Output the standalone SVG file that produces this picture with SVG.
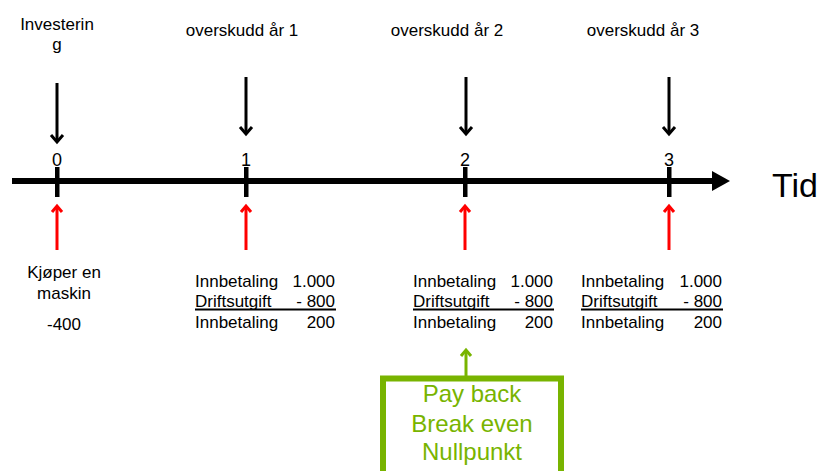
<svg xmlns="http://www.w3.org/2000/svg" width="819" height="471" viewBox="0 0 819 471">
<style>
text{font-family:"Liberation Sans",Arial,sans-serif;fill:#000}
.lbl{font-size:17px;text-anchor:middle}
.num{font-size:18px;text-anchor:middle}
.body{font-size:17px}
.end{text-anchor:end}
.mid{text-anchor:middle}
.blk{stroke:#000;stroke-width:3;fill:none}
.red{stroke:#ff0000;stroke-width:3;fill:none}
.grn{stroke:#78b400;stroke-width:3;fill:none}
.gtxt{font-size:24px;text-anchor:middle;fill:#78b400}
</style>
<g id="axis">
<line x1="12" y1="181" x2="714" y2="181" stroke="#000" stroke-width="6"/>
<polygon points="712,171 730,181 712,191" fill="#000"/>
<text x="772" y="197" style="font-size:34px">Tid</text>
</g>
<g id="connectors">
<line class="blk" x1="57" y1="83" x2="57" y2="142"/><polyline class="blk" points="51,135 57,142 63,135"/>
<line class="blk" x1="246" y1="77" x2="246" y2="134"/><polyline class="blk" points="240,127 246,134 252,127"/>
<line class="blk" x1="466" y1="77" x2="466" y2="134"/><polyline class="blk" points="460,127 466,134 472,127"/>
<line class="blk" x1="669" y1="77" x2="669" y2="134"/><polyline class="blk" points="663,127 669,134 675,127"/>
<line class="red" x1="57" y1="250" x2="57" y2="206"/><polyline class="red" points="52,212 57,206 62,212"/>
<line class="red" x1="246" y1="250" x2="246" y2="206"/><polyline class="red" points="241,212 246,206 251,212"/>
<line class="red" x1="465" y1="250" x2="465" y2="206"/><polyline class="red" points="460,212 465,206 470,212"/>
<line class="red" x1="669" y1="250" x2="669" y2="206"/><polyline class="red" points="664,212 669,206 674,212"/>
<line class="grn" x1="466" y1="376" x2="466" y2="350"/><polyline class="grn" points="461,356 466,350 471,356"/>
</g>
<g id="t0">
<rect x="55" y="167" width="4.5" height="30" fill="#000"/>
<text class="num" x="57" y="166">0</text>
<text class="lbl" x="57" y="30">Investerin</text>
<text class="lbl" x="57" y="50">g</text>
<text class="body mid" x="64" y="278">Kjøper en</text>
<text class="body mid" x="64" y="299">maskin</text>
<text class="body mid" x="64" y="330">-400</text>
</g>
<g id="t1">
<rect x="244" y="167" width="4.5" height="30" fill="#000"/>
<text class="num" x="246" y="166">1</text>
<text class="lbl" x="242" y="36">overskudd år 1</text>
<text class="body" x="195" y="287">Innbetaling</text><text class="body end" x="335" y="287">1.000</text>
<text class="body" x="195" y="307">Driftsutgift</text><text class="body end" x="335" y="307">- 800</text>
<line x1="195" y1="309.5" x2="336" y2="309.5" stroke="#000" stroke-width="2"/>
<text class="body" x="195" y="328">Innbetaling</text><text class="body end" x="335" y="328">200</text>
</g>
<g id="t2">
<rect x="463" y="167" width="4.5" height="30" fill="#000"/>
<text class="num" x="465" y="166">2</text>
<text class="lbl" x="447" y="36">overskudd år 2</text>
<text class="body" x="413" y="287">Innbetaling</text><text class="body end" x="553" y="287">1.000</text>
<text class="body" x="413" y="307">Driftsutgift</text><text class="body end" x="553" y="307">- 800</text>
<line x1="413" y1="309.5" x2="554" y2="309.5" stroke="#000" stroke-width="2"/>
<text class="body" x="413" y="328">Innbetaling</text><text class="body end" x="553" y="328">200</text>
</g>
<g id="t3">
<rect x="667" y="167" width="4.5" height="30" fill="#000"/>
<text class="num" x="669" y="166">3</text>
<text class="lbl" x="643" y="36">overskudd år 3</text>
<text class="body" x="581" y="287">Innbetaling</text><text class="body end" x="722" y="287">1.000</text>
<text class="body" x="581" y="307">Driftsutgift</text><text class="body end" x="722" y="307">- 800</text>
<line x1="581" y1="309.5" x2="723" y2="309.5" stroke="#000" stroke-width="2"/>
<text class="body" x="581" y="328">Innbetaling</text><text class="body end" x="722" y="328">200</text>
</g>
<g id="payback">
<rect x="383" y="378.5" width="178" height="110" fill="none" stroke="#78b400" stroke-width="6"/>
<text class="gtxt" x="472" y="402">Pay back</text>
<text class="gtxt" x="472" y="432">Break even</text>
<text class="gtxt" x="472" y="460">Nullpunkt</text>
</g>
</svg>
